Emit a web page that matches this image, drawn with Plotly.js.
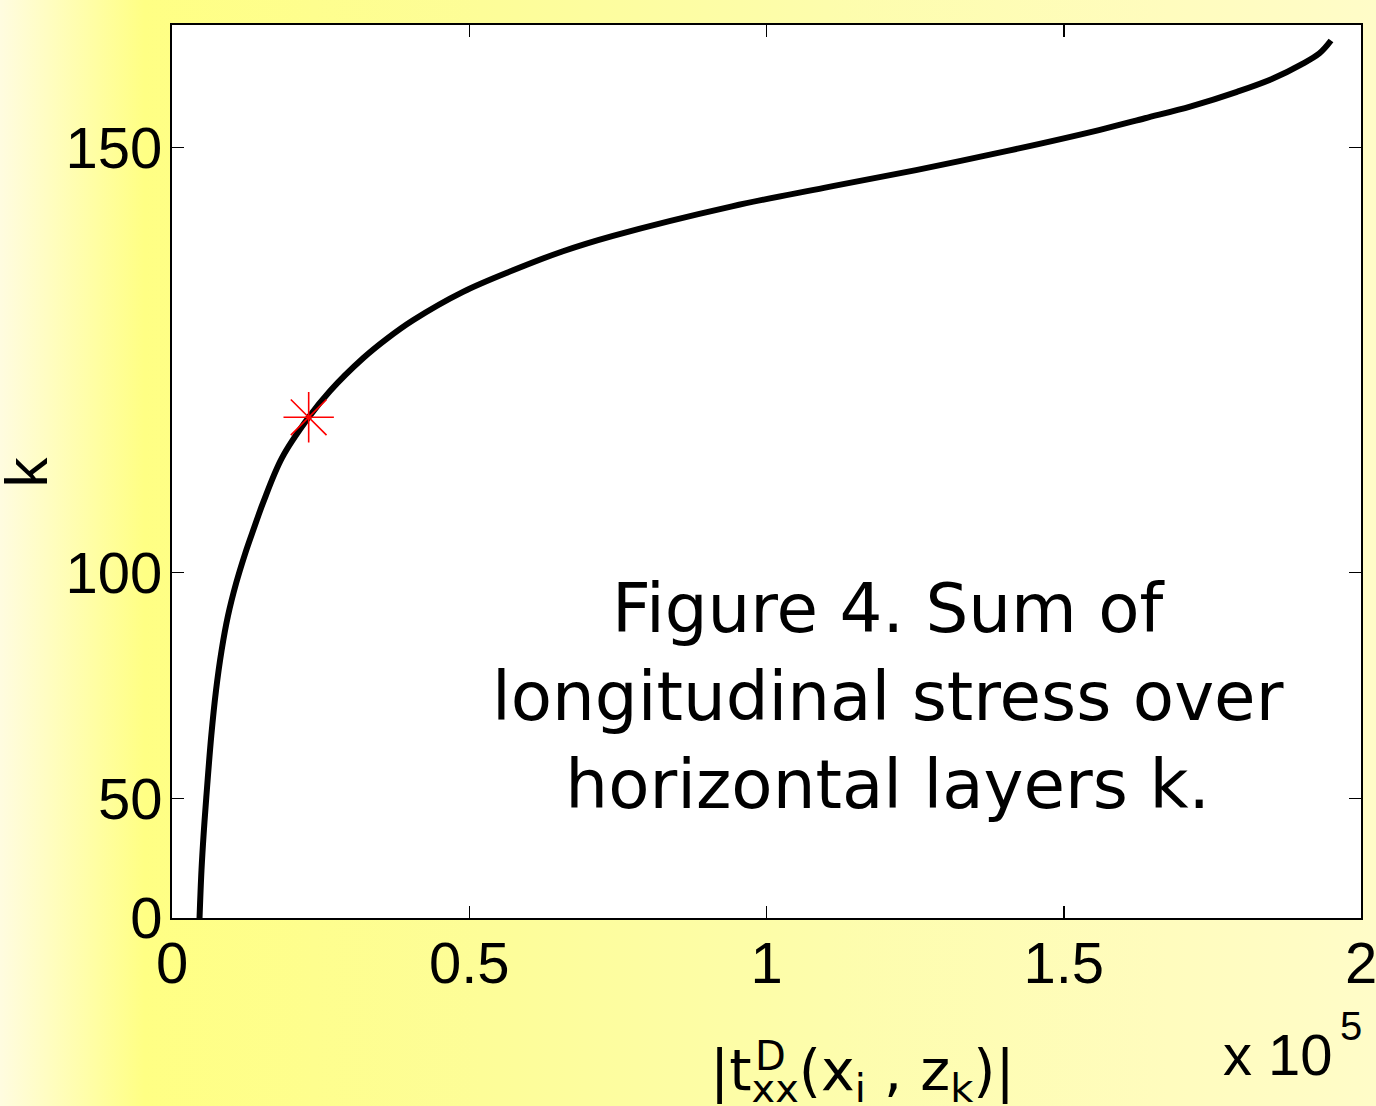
<!DOCTYPE html>
<html>
<head>
<meta charset="utf-8">
<script src="https://cdn.plot.ly/plotly-3.0.1.min.js"></script>
<style>
  html, body { margin: 0; padding: 0; }
  body {
    width: 1376px; height: 1106px; overflow: hidden;
    background: linear-gradient(to right, #fffce0 0%, #ffff84 10.5%, #fdfd98 35%, #fdfdac 60%, #fffcbe 85%, #fffcc8 100%);
  }
  #chart { width: 1376px; height: 1106px; }
</style>
</head>
<body>
<div id="chart"></div>
<script>
// Curve: |t_xx^D| (in units of 1e5) versus layer index k
const stressX = [0.0463, 0.0496, 0.0533, 0.0577, 0.0661, 0.0740, 0.0833, 0.0942, 0.1077, 0.1228, 0.1379, 0.1531, 0.1850, 0.2299, 0.2658, 0.3213, 0.3617, 0.4054, 0.4895, 0.5736, 0.6577, 0.7418, 0.9420, 1.0967, 1.2515, 1.4054, 1.5593, 1.6367, 1.7140, 1.7914, 1.8528, 1.8991, 1.9302, 1.9495];
const layerK  = [0, 23.9, 38.4, 50.3, 67.4, 77.8, 86.0, 92.6, 98.2, 103.0, 107.0, 110.7, 116.9, 122.1, 125.3, 129.1, 131.3, 133.3, 136.3, 138.5, 140.4, 141.9, 144.7, 146.4, 148.0, 149.7, 151.5, 152.5, 153.5, 154.7, 155.8, 156.9, 157.8, 158.8];

// Highlighted point (red asterisk)
const starX = [0.2299];
const starK = [122.1];

// Axis ticks
const xTickVals = [0, 0.5, 1, 1.5, 2];
const xTickText = ['0', '0.5', '1', '1.5', '2'];
const yTickK = [0, 50, 100, 150];
const yTickText = ['0', '50', '100', '150'];
const kMax = 160;

// The k axis of the original is stretched (ticks 0/50/100/150 are not evenly spaced):
// map k onto the drawn axis with the same stretch for data and ticks.
const STRETCH = 1.885;
const kAxis = k => Math.pow(STRETCH, k / 50) - 1;

const traces = [
  {
    x: stressX, y: layerK.map(kAxis),
    type: 'scatter', mode: 'lines',
    line: { color: '#000000', width: 6, shape: 'spline', smoothing: 1 },
    hoverinfo: 'skip', showlegend: false
  },
  {
    x: starX, y: starK.map(kAxis),
    type: 'scatter', mode: 'markers',
    marker: { symbol: 'asterisk-open', size: 42, color: '#ff0000', line: { color: '#ff0000', width: 1.6 } },
    hoverinfo: 'skip', showlegend: false
  }
];

const tickFont = { family: '"Liberation Sans", Arial, sans-serif', size: 58, color: '#000' };
const mathFont = { family: '"DejaVu Sans", sans-serif', size: 57, color: '#000' };

const layout = {
  width: 1376, height: 1106,
  margin: { l: 172, r: 15, t: 25, b: 188, pad: 0 },
  paper_bgcolor: 'rgba(0,0,0,0)',
  plot_bgcolor: '#ffffff',
  xaxis: {
    range: [0, 2],
    tickmode: 'array', tickvals: xTickVals, ticktext: xTickText,
    ticks: 'inside', ticklen: 12, tickwidth: 1.5, tickcolor: '#000',
    showline: true, linewidth: 2, linecolor: '#000', mirror: 'ticks',
    showgrid: false, zeroline: false,
    tickfont: tickFont, ticklabelstandoff: -7, ticklabeloverflow: 'allow'
  },
  yaxis: {
    range: [0, kAxis(kMax)],
    tickmode: 'array', tickvals: yTickK.map(kAxis), ticktext: yTickText,
    ticks: 'inside', ticklen: 12, tickwidth: 1.5, tickcolor: '#000',
    showline: true, linewidth: 2, linecolor: '#000', mirror: 'ticks',
    showgrid: false, zeroline: false,
    tickfont: tickFont, ticklabelstandoff: -4, ticklabeloverflow: 'allow'
  },
  annotations: [
    {
      text: 'Figure 4. Sum of<br>longitudinal stress over<br>horizontal layers k.',
      xref: 'paper', yref: 'paper', x: 0.602, y: 0.248,
      xanchor: 'center', yanchor: 'middle', showarrow: false,
      font: { family: '"DejaVu Sans", sans-serif', size: 67.5, color: '#000' }
    },
    {
      text: 'k',
      xref: 'paper', yref: 'paper', x: -0.122, y: 0.5, textangle: -90,
      xanchor: 'center', yanchor: 'middle', showarrow: false,
      font: { family: '"Liberation Sans", Arial, sans-serif', size: 60, color: '#000' }
    },
    {
      text: '|t<sub>xx</sub>(x<sub>i</sub> , z<sub>k</sub>)|',
      xref: 'paper', yref: 'paper', x: 0.581, y: -0.131,
      xanchor: 'center', yanchor: 'top', showarrow: false,
      font: mathFont
    },
    {
      text: 'D',
      xref: 'paper', yref: 'paper', x: 0.503, y: -0.126,
      xanchor: 'center', yanchor: 'top', showarrow: false,
      font: { family: '"DejaVu Sans", sans-serif', size: 40, color: '#000' }
    },
    {
      text: 'x 10',
      xref: 'paper', yref: 'paper', x: 0.978, y: -0.1534,
      xanchor: 'right', yanchor: 'middle', showarrow: false,
      font: { family: '"Liberation Sans", Arial, sans-serif', size: 58, color: '#000' }
    },
    {
      text: '5',
      xref: 'paper', yref: 'paper', x: 0.9807, y: -0.121,
      xanchor: 'left', yanchor: 'middle', showarrow: false,
      font: { family: '"Liberation Sans", Arial, sans-serif', size: 40, color: '#000' }
    }
  ]
};

Plotly.newPlot('chart', traces, layout, { displayModeBar: false, staticPlot: true });
</script>
</body>
</html>
